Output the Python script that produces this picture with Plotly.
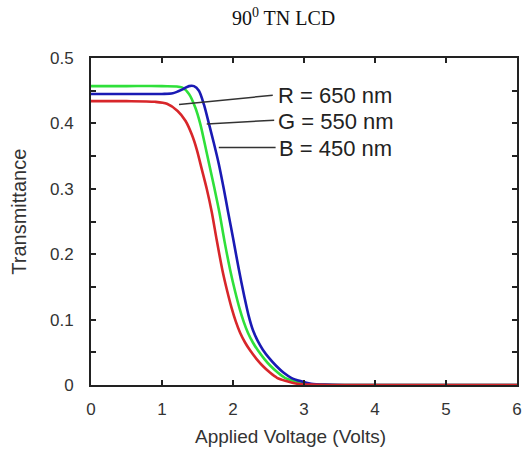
import plotly.graph_objects as go

red_x = [0, 0.5, 0.9, 1.07, 1.22, 1.33, 1.42, 1.49, 1.56, 1.63, 1.70, 1.77, 1.85, 1.92, 1.98, 2.04, 2.10, 2.17, 2.24, 2.33, 2.42, 2.52, 2.62, 2.75, 2.90, 3.1, 3.4, 4, 5, 6]
red_y = [0.434, 0.434, 0.433, 0.430, 0.419, 0.404, 0.383, 0.360, 0.330, 0.300, 0.265, 0.222, 0.176, 0.143, 0.118, 0.097, 0.080, 0.065, 0.053, 0.040, 0.029, 0.019, 0.011, 0.006, 0.002, 0.0005, 0, 0, 0, 0]

green_x = [0, 0.5, 1.0, 1.28, 1.38, 1.47, 1.54, 1.60, 1.67, 1.74, 1.81, 1.88, 1.96, 2.03, 2.09, 2.15, 2.21, 2.28, 2.35, 2.44, 2.53, 2.63, 2.73, 2.86, 3.0, 3.2, 3.5, 4, 5, 6]
green_y = [0.457, 0.457, 0.457, 0.455, 0.445, 0.424, 0.399, 0.370, 0.335, 0.300, 0.263, 0.220, 0.176, 0.143, 0.118, 0.097, 0.080, 0.065, 0.053, 0.040, 0.029, 0.019, 0.011, 0.006, 0.002, 0.0005, 0, 0, 0, 0]

blue_x = [0, 0.5, 1.0, 1.15, 1.29, 1.38, 1.45, 1.52, 1.59, 1.66, 1.73, 1.80, 1.87, 1.93, 2.00, 2.08, 2.16, 2.22, 2.28, 2.35, 2.42, 2.51, 2.61, 2.71, 2.82, 2.95, 3.1, 3.3, 3.6, 4, 5, 6]
blue_y = [0.445, 0.445, 0.445, 0.446, 0.452, 0.457, 0.457, 0.450, 0.429, 0.400, 0.370, 0.338, 0.300, 0.265, 0.225, 0.178, 0.135, 0.106, 0.084, 0.067, 0.054, 0.041, 0.029, 0.019, 0.011, 0.006, 0.002, 0.0005, 0, 0, 0, 0]

labels = ["R = 650 nm", "G = 550 nm", "B = 450 nm"]
leader_start = [(1.24, 0.429), (1.63, 0.399), (1.80, 0.363)]
leader_end = [(2.56, 0.443), (2.58, 0.405), (2.60, 0.363)]
label_pos = [(2.60, 0.442), (2.60, 0.403), (2.62, 0.362)]

x_ticks = [0, 1, 2, 3, 4, 5, 6]
y_ticks = [0, 0.1, 0.2, 0.3, 0.4, 0.5]

fig = go.Figure()
for xs, ys, col in [(green_x, green_y, "#2fe03a"), (blue_x, blue_y, "#1a1ab4"), (red_x, red_y, "#d8262a")]:
    fig.add_trace(go.Scatter(x=xs, y=ys, mode="lines", line=dict(color=col, width=2.6, shape="spline", smoothing=0.8),
                             showlegend=False, hoverinfo="skip"))

for (x0, y0), (x1, y1) in zip(leader_start, leader_end):
    fig.add_shape(type="line", x0=x0, y0=y0, x1=x1, y1=y1, xref="x", yref="y",
                  line=dict(color="#333333", width=1.5))

for txt, (lx, ly) in zip(labels, label_pos):
    fig.add_annotation(x=lx, y=ly, text=txt, showarrow=False, xanchor="left", yanchor="middle",
                       font=dict(family="Liberation Sans, Arial", size=22, color="#222222"))

# axis titles
fig.add_annotation(x=0.469, y=-0.156, xref="paper", yref="paper", text="Applied Voltage (Volts)",
                   showarrow=False, xanchor="center", yanchor="middle",
                   font=dict(family="Liberation Sans, Arial", size=19, color="#333333"))
fig.add_annotation(x=-0.169, y=0.53, xref="paper", yref="paper", text="Transmittance", textangle=-90,
                   showarrow=False, xanchor="center", yanchor="middle",
                   font=dict(family="Liberation Sans, Arial", size=20, color="#333333"))

fig.update_layout(
    width=530, height=451,
    margin=dict(l=91, r=8, t=58, b=66),
    paper_bgcolor="white", plot_bgcolor="white",
    title=dict(text="90<sup>0</sup> TN LCD", x=0.535, xanchor="center", y=0.96, yanchor="middle",
               font=dict(family="Liberation Serif, Times New Roman", size=20, color="#111111")),
    font=dict(family="Liberation Sans, Arial", color="#333333"),
)
fig.update_xaxes(
    range=[0, 6], tickvals=x_ticks, ticktext=[str(v) for v in x_ticks],
    ticks="inside", ticklen=5, tickwidth=1.5, tickcolor="#222222",
    showline=True, linecolor="#222222", linewidth=1.8, mirror="ticks",
    showgrid=False, zeroline=False,
    tickfont=dict(size=17, color="#333333"), ticklabelstandoff=8,
)
fig.update_yaxes(
    range=[0, 0.5], tickvals=y_ticks, ticktext=["0", "0.1", "0.2", "0.3", "0.4", "0.5"],
    ticks="inside", ticklen=5, tickwidth=1.5, tickcolor="#222222",
    minor=dict(dtick=0.05, ticks="inside", ticklen=5, tickcolor="#222222", tickwidth=1.5),
    showline=True, linecolor="#222222", linewidth=1.8, mirror="ticks",
    showgrid=False, zeroline=False,
    tickfont=dict(size=17, color="#333333"), ticklabelstandoff=12,
)

fig.write_html("out.html")
